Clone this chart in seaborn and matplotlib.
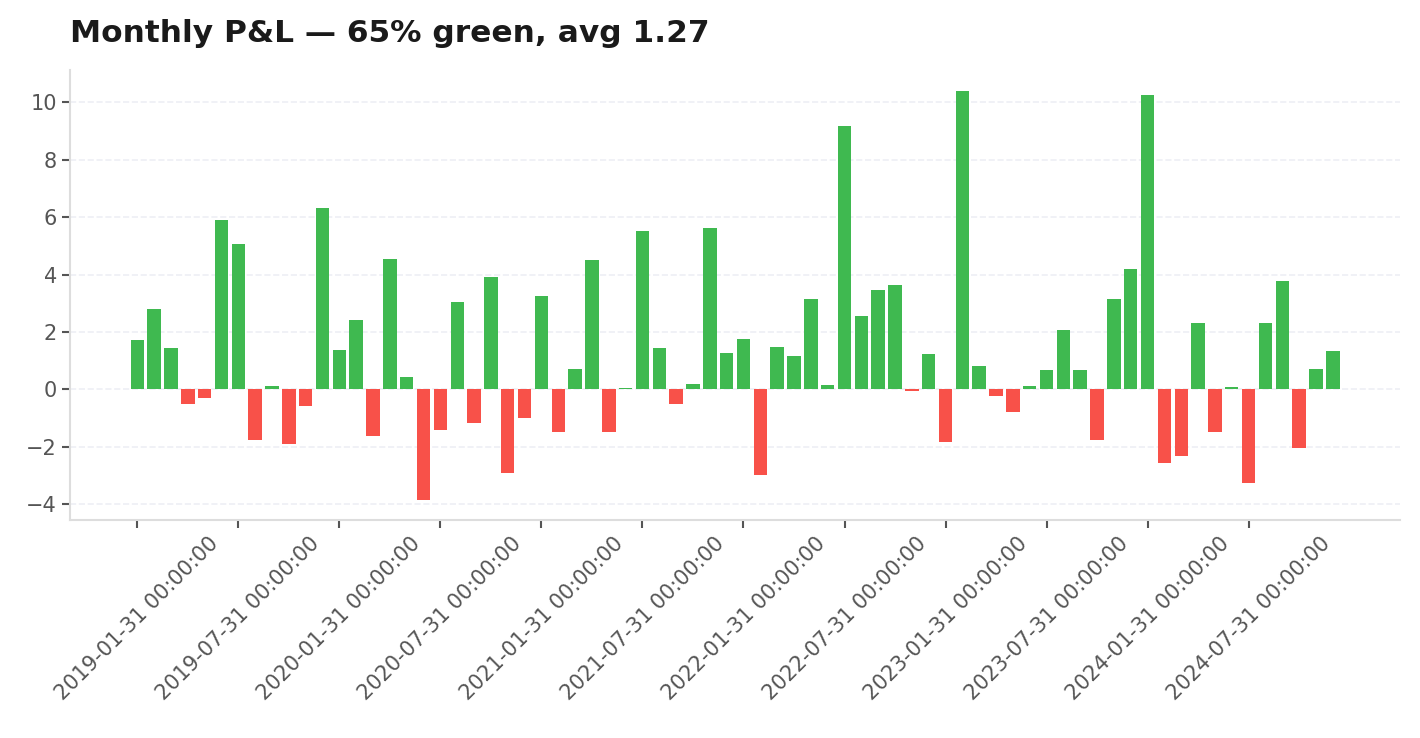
import pandas as pd
import seaborn as sns
import matplotlib.pyplot as plt

# monthly P&L, Jan 2019 .. Dec 2024
pnl = [1.71, 2.79, 1.43, -0.52, -0.31, 5.90, 5.06, -1.78, 0.10, -1.89, -0.59, 6.32,
       1.36, 2.41, -1.64, 4.54, 0.42, -3.84, -1.43, 3.04, -1.19, 3.91, -2.90, -1.01,
       3.25, -1.47, 0.70, 4.51, -1.47, 0.03, 5.52, 1.43, -0.52, 0.17, 5.62, 1.26,
       1.75, -3.00, 1.47, 1.15, 3.14, 0.14, 9.19, 2.55, 3.46, 3.63, -0.07, 1.22,
       -1.82, 10.41, 0.80, -0.24, -0.80, 0.10, 0.66, 2.06, 0.66, -1.78, 3.14, 4.19,
       10.27, -2.58, -2.31, 2.30, -1.47, 0.07, -3.28, 2.30, 3.77, -2.03, 0.70, 1.33]
dates = pd.date_range("2019-01-31", periods=len(pnl), freq="ME")
title = "Monthly P&L — 65% green, avg 1.27"

df = pd.DataFrame({"pos": range(len(pnl)), "pnl": pnl})
df["sign"] = ["up" if v >= 0 else "down" for v in df.pnl]

sns.set_style("white")
plt.rcParams["font.family"] = ["DejaVu Sans"]

fig, ax = plt.subplots(figsize=(14.2, 7.38), dpi=100)
fig.subplots_adjust(left=0.0493, right=0.986, top=0.905, bottom=0.2954)

sns.barplot(data=df, x="pos", y="pnl", hue="sign",
            palette={"up": "#3fb950", "down": "#f85149"}, saturation=1,
            width=0.8, dodge=False, legend=False, linewidth=0, ax=ax)

# matplotlib-style 5% margins around the bars
ax.set_xlim(-4, 75)
ax.margins(y=0.05)
ticks = df.pos[::6]
ax.set_xticks(ticks)
ax.set_xticklabels([str(d) for d in dates[::6]], rotation=45)
ax.set_xlabel("")
ax.set_ylabel("")

ax.grid(axis="y", linestyle="--", color="#eeeff5", linewidth=1.2)
ax.set_axisbelow(True)
sns.despine(ax=ax)
for s in ["left", "bottom"]:
    ax.spines[s].set_color("#dddddd")
    ax.spines[s].set_linewidth(1.5)
ax.tick_params(axis="both", labelsize=15, labelcolor="#555555", color="#555555",
               length=6, width=1.5, bottom=True, left=True)

ax.set_title(title, loc="left", fontsize=22.5, fontweight="bold", color="#1a1a1a", pad=20)

fig.savefig("out.png", dpi=100)
